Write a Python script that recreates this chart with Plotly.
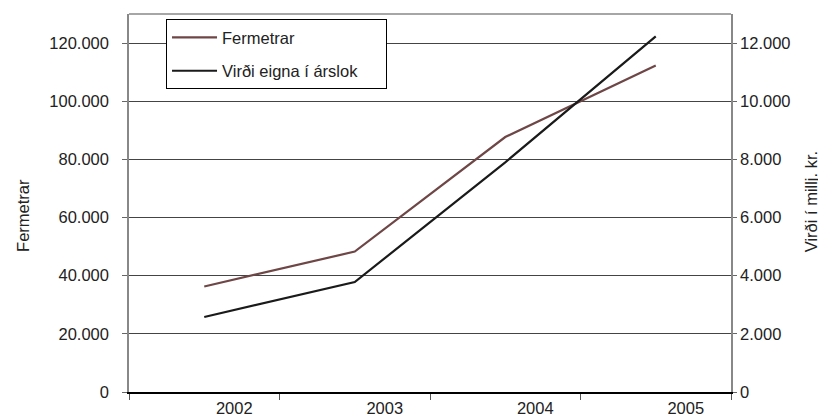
import plotly.graph_objects as go

years = ["2002", "2003", "2004", "2005"]
fermetrar = [36300, 48300, 87700, 112300]
virdi = [2580, 3780, 7900, 12230]
left_ticks = [0, 20000, 40000, 60000, 80000, 100000, 120000]
right_ticks = [0, 2000, 4000, 6000, 8000, 10000, 12000]

FONT = "Liberation Sans, Arial, Helvetica, sans-serif"
FS = 16.5
PAD = "\u00a0" * 5

fig = go.Figure()
fig.add_trace(go.Scatter(
    x=years, y=fermetrar, name="Fermetrar", mode="lines",
    line=dict(color="#6e4646", width=2.2), legendgroup="a"))
fig.add_trace(go.Scatter(
    x=years, y=virdi, name="Virði eigna í árslok" + PAD, mode="lines",
    line=dict(color="#1a1a1a", width=2.2), yaxis="y2", legendgroup="b"))

fig.update_layout(
    width=818, height=410,
    margin=dict(l=121, r=95, t=6, b=25.5, autoexpand=False),
    plot_bgcolor="white", paper_bgcolor="white",
    separators=",.",
    font=dict(family=FONT, size=FS, color="#222"),
    showlegend=True,
    xaxis=dict(
        type="category", tickson="boundaries", ticks="outside", ticklen=6,
        tickcolor="#555", tickwidth=1, showline=True, linecolor="black",
        linewidth=1.5, showgrid=False, ticklabelshift=30, range=[-0.5, 3.5],
        tickfont=dict(size=FS), automargin=False),
    yaxis=dict(
        range=[0, 130000], tickvals=left_ticks, tickformat=",d",
        showgrid=True, gridcolor="#444", gridwidth=1, showline=True,
        linecolor="#888", linewidth=1.5, ticks="outside", ticklen=5,
        tickcolor="#666", zeroline=False, ticklabelstandoff=10,
        tickfont=dict(size=FS), automargin=False),
    yaxis2=dict(
        overlaying="y", side="right", range=[0, 13000], tickvals=right_ticks,
        tickformat=",d", showgrid=False, showline=True, linecolor="#888",
        linewidth=1.5, ticks="outside", ticklen=4, tickcolor="#666",
        zeroline=False, tickfont=dict(size=FS), automargin=False),
    legend=dict(
        x=0.0615, y=0.9866, xanchor="left", yanchor="top",
        bordercolor="black", borderwidth=1, bgcolor="white",
        tracegroupgap=9, traceorder="grouped", font=dict(size=FS),
        itemwidth=45),
    shapes=[dict(type="line", xref="paper", yref="paper", x0=0, x1=1,
                 y0=1, y1=1, line=dict(color="#888", width=1.5))],
    annotations=[
        dict(text="Fermetrar", xref="paper", yref="paper", x=-0.176, y=0.466,
             xanchor="center", yanchor="middle", textangle=-90,
             showarrow=False, font=dict(size=FS)),
        dict(text="Virði í millj. kr.", xref="paper", yref="paper", x=1.132,
             y=0.503, xanchor="center", yanchor="middle", textangle=-90,
             showarrow=False, font=dict(size=FS)),
    ],
)

fig.write_html("out.html")
